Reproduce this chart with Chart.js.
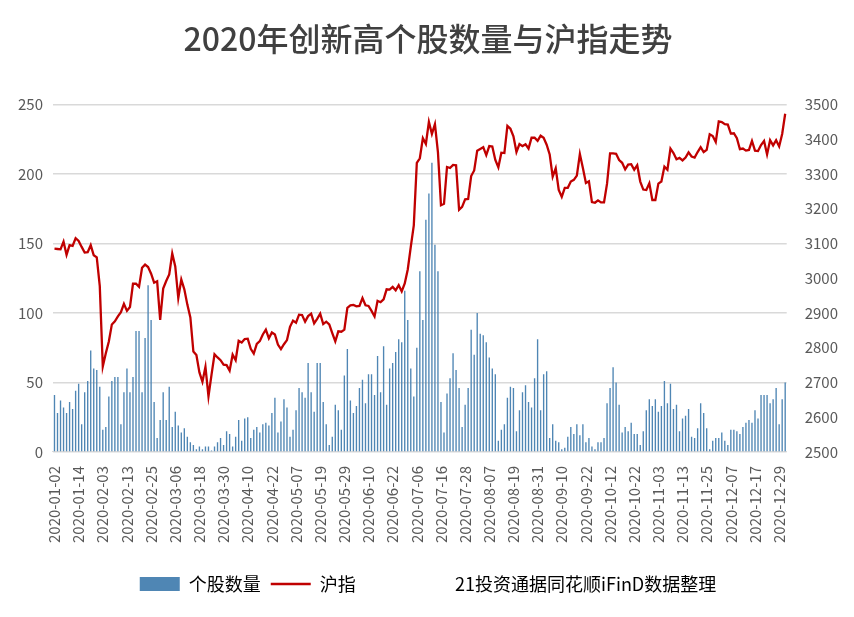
<!DOCTYPE html>
<html><head><meta charset="utf-8">
<script src="https://cdn.jsdelivr.net/npm/chart.js@4.4.0/dist/chart.umd.min.js"></script>
<style>html,body{margin:0;background:#fff}#wrap{width:854px;height:617px}</style>
</head><body><div id="wrap"><canvas id="c"></canvas></div>
<script>
// 2020 休市的工作日
var HOLIDAYS = ['2020-01-01','2020-01-24','2020-01-27','2020-01-28','2020-01-29','2020-01-30','2020-01-31',
  '2020-04-06','2020-05-01','2020-05-04','2020-05-05','2020-06-25','2020-06-26',
  '2020-10-01','2020-10-02','2020-10-05','2020-10-06','2020-10-07','2020-10-08'];

var newHighs = [
  41,28,37,32,28,36,31,44,49,20, 43,51,73,60,59,47,16,18,40,51, 54,54,20,43,60,43,54,87,87,43,
  82,120,95,36,10,23,43,23,47,18, 29,19,14,17,11,7,5,2,4,2, 4,4,1,4,7,10,5,15,13,4,
  11,23,8,24,25,10,16,18,14,20, 21,19,28,39,14,22,38,32,11,16, 30,
  46,43,39,64,43,29,64,64,36,20, 5,11,34,30,16,55,74,37,28,33, 46,52,35,56,56,41,69,43,76,34,
  60,64,72,81,79,116,95,60,40,75, 130,95,167,186,208,149,130,36,14,42, 53,71,59,46,18,34,46,88,70,100,
  85,84,79,68,60,56,8,16,20,39, 47,46,15,30,43,48,36,32,53,81, 30,56,58,
  10,20,8,7,2,3,11,18,13,20, 12,20,7,10,4,2,7,7,10,35, 46,61,50,34,14,18,15,21,13,13,
  5,15,30,38,33,38,29,33,51,35, 49,31,34,15,24,26,31,11,10,17, 35,28,17,2,8,10,10,14,8,5,
  16,16,15,13,18,21,23,21,30,24, 41,41,41,35,38,46,20,38,50
];

var shIndex = [
  // 1月
  3085,3084,3083,3105,3067,3095,3093,3115,3107,3090,3074,3075,3095,3066,3060,2977,
  // 2月
  2746,2784,2818,2867,2876,2890,2902,2926,2906,2917,2984,2984,2975,3030,3039,3032,3013,2987,2991,2880,
  // 3月
  2970,2992,3011,3071,3034,2943,2996,2968,2924,2887,2789,2779,2729,2702,2745,2660,2722,2781,2772,2764,2751,2750,
  // 4月
  2734,2780,2764,2820,2815,2825,2826,2797,2783,2811,2819,2838,2852,2827,2844,2838,2809,2796,2810,2822,2860,
  // 5月
  2878,2872,2895,2894,2875,2891,2898,2870,2883,2898,2868,2875,2867,2842,2818,2847,2846,2852,
  // 6月
  2915,2922,2923,2919,2920,2943,2922,2920,2906,2890,2935,2931,2939,2968,2967,2975,2965,2980,2962,2985,
  // 7月
  3025,3090,3152,3332,3345,3403,3386,3450,3415,3443,3362,3210,3214,3320,3317,3326,3325,3197,3205,3227,3228,3294,3310,
  // 8月
  3367,3372,3377,3354,3380,3379,3340,3319,3361,3360,3438,3430,3408,3363,3386,3380,3385,3373,3404,3404,3395,
  // 9月
  3410,3404,3384,3356,3292,3316,3254,3234,3260,3260,3278,3283,3295,3357,3317,3274,3279,3219,3217,3224,3218,3218,
  // 10月
  3272,3359,3359,3358,3340,3332,3313,3327,3328,3312,3325,3278,3255,3254,3273,3225,
  // 11月
  3225,3272,3278,3321,3312,3373,3360,3342,3346,3339,3347,3362,3350,3347,3363,3377,3363,3369,3414,3409,3392,
  // 12月
  3451,3449,3443,3442,3416,3417,3403,3371,3373,3367,3369,3395,3367,3366,3383,3395,3356,3397,3382,3397,3379,3415,3473
];

var TITLE = '2020年创新高个股数量与沪指走势';
var SOURCE = '21投资通据同花顺iFinD数据整理';

function tradingDays() {
  var out = [];
  var d = new Date(Date.UTC(2020, 0, 1));
  while (d.getUTCFullYear() === 2020) {
    var s = d.toISOString().slice(0, 10);
    var wd = d.getUTCDay();
    if (wd !== 0 && wd !== 6 && HOLIDAYS.indexOf(s) < 0) out.push(s);
    d.setUTCDate(d.getUTCDate() + 1);
  }
  return out;
}
var dates = tradingDays();

Chart.defaults.font.family = '"Microsoft YaHei","Noto Sans CJK SC",sans-serif';
Chart.defaults.color = '#595959';

new Chart(document.getElementById('c'), {
  data: {
    labels: dates,
    datasets: [{
      type: 'line', label: '沪指', data: shIndex, yAxisID: 'y1',
      borderColor: '#c00000', borderWidth: 2.3, pointRadius: 0, tension: 0, order: 0
    }, {
      type: 'bar', label: '个股数量', data: newHighs, yAxisID: 'y',
      backgroundColor: '#4f86b4', barPercentage: 0.45, categoryPercentage: 1, order: 1
    }]
  },
  options: {
    responsive: true, maintainAspectRatio: false, animation: false,
    layout: { padding: { left: 8, right: 6, top: 6, bottom: 14 } },
    plugins: {
      title: { display: true, text: TITLE, color: '#404040',
        font: { size: 32, weight: '500' }, padding: { top: 14, bottom: 46 } },
      tooltip: { enabled: false },
      legend: {
        position: 'bottom',
        labels: {
          font: { size: 18 }, color: '#595959', usePointStyle: true, pointStyleWidth: 40,
          boxHeight: 14, padding: 10,
          generateLabels: function () {
            return [
              { text: '个股数量', fillStyle: '#4f86b4', strokeStyle: '#4f86b4', lineWidth: 0, pointStyle: 'rect', datasetIndex: 1 },
              { text: '沪指 ', fillStyle: '#c00000', strokeStyle: '#c00000', lineWidth: 2.5, pointStyle: 'line', datasetIndex: 0 },
              { text: '         ' + SOURCE, fillStyle: 'rgba(0,0,0,0)', strokeStyle: 'rgba(0,0,0,0)', lineWidth: 0, pointStyle: 'rect' }
            ];
          }
        }
      }
    },
    scales: {
      x: {
        grid: { display: false }, border: { color: '#d9d9d9' },
        afterFit: function (s) { s.height += 16; },
        ticks: {
          autoSkip: false, maxRotation: 90, minRotation: 90, font: { size: 15 }, padding: 6,
          callback: function (v, i) { return i % 8 === 0 ? dates[i] : null; }
        }
      },
      y: {
        position: 'left', min: 0, max: 250,
        ticks: { stepSize: 50, font: { size: 15 }, padding: 10, callback: function (v) { return String(v); } },
        grid: { color: '#d9d9d9', lineWidth: 1.5, drawTicks: false }, border: { display: false }
      },
      y1: {
        position: 'right', min: 2500, max: 3500,
        ticks: { stepSize: 100, font: { size: 15 }, padding: 10, callback: function (v) { return String(v); } },
        grid: { display: false }, border: { display: false }
      }
    }
  }
});
</script></body></html>
